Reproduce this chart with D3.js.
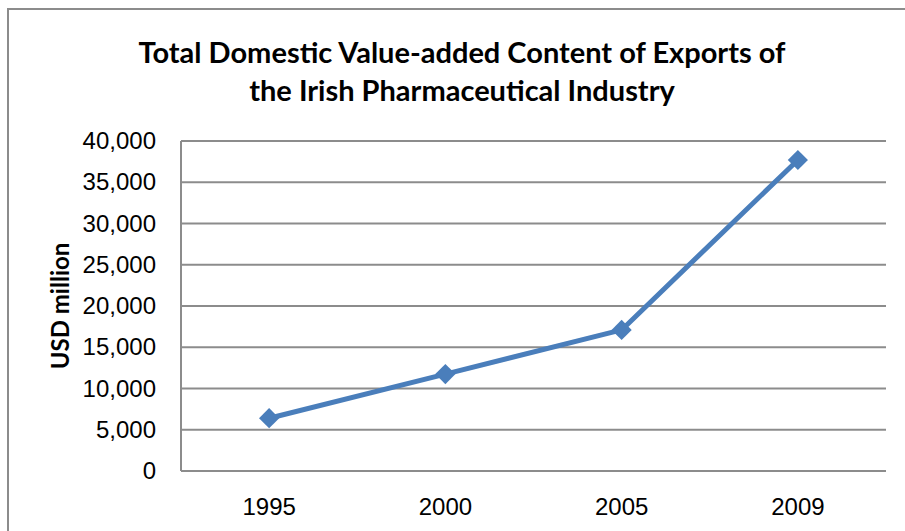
<!DOCTYPE html>
<html>
<head>
<meta charset="utf-8">
<style>
  body { margin: 0; background: #fff; }
  svg { display: block; font-family: Lato, "Open Sans", sans-serif; }
  .grid line { stroke: #8c8c8c; stroke-width: 2; }
  .axis .domain { display: none; }
  .axis text { fill: #000; font-size: 24px; }
</style>
</head>
<body>
<svg width="905" height="531"></svg>
<script src="https://cdn.jsdelivr.net/npm/d3@7"></script>
<script>
// values
var years = ["1995", "2000", "2005", "2009"];
var values = [6400, 11750, 17100, 37700];
var yTicks = [0, 5000, 10000, 15000, 20000, 25000, 30000, 35000, 40000];

var svg = d3.select("svg"),
    margin = {top: 141, right: 19, bottom: 60, left: 181},
    width = +svg.attr("width") - margin.left - margin.right,
    height = +svg.attr("height") - margin.top - margin.bottom;

// outer chart frame
svg.append("rect")
    .attr("x", 8).attr("y", 9)
    .attr("width", 920).attr("height", 560)
    .attr("fill", "none")
    .attr("stroke", "#8c8c8c")
    .attr("stroke-width", 2);

var g = svg.append("g").attr("transform", "translate(" + margin.left + "," + margin.top + ")");

var x = d3.scaleBand().domain(years).range([0, width]);
var y = d3.scaleLinear().domain([0, 40000]).range([height, 0]);

g.append("g")
    .attr("class", "grid")
    .selectAll("line")
    .data(yTicks)
    .enter().append("line")
      .attr("x1", 0).attr("x2", width)
      .attr("y1", function(d) { return y(d); })
      .attr("y2", function(d) { return y(d); });

g.append("line")
    .attr("x1", 0).attr("x2", 0)
    .attr("y1", 0).attr("y2", height)
    .attr("stroke", "#8c8c8c").attr("stroke-width", 2);

g.append("g")
    .attr("class", "axis")
    .call(d3.axisLeft(y).tickValues(yTicks).tickSize(0).tickPadding(25).tickFormat(d3.format(",")));

g.append("g")
    .attr("class", "axis")
    .attr("transform", "translate(0," + height + ")")
    .call(d3.axisBottom(x).tickSize(0).tickPadding(27));

var line = d3.line()
    .x(function(d, i) { return x(years[i]) + x.bandwidth() / 2; })
    .y(function(d) { return y(d); });

g.append("path")
    .datum(values)
    .attr("fill", "none")
    .attr("stroke", "#4a7ebb")
    .attr("stroke-width", 5)
    .attr("stroke-linejoin", "round")
    .attr("d", line);

g.selectAll(".dot")
    .data(values)
    .enter().append("path")
      .attr("class", "dot")
      .attr("transform", function(d, i) { return "translate(" + (x(years[i]) + x.bandwidth() / 2) + "," + y(d) + ")"; })
      .attr("d", d3.symbol().type(d3.symbolDiamond2).size(260))
      .attr("fill", "#4a7ebb");

svg.append("text")
    .attr("transform", "translate(69," + (margin.top + height / 2) + ") rotate(-90)")
    .attr("text-anchor", "middle")
    .attr("font-size", 24)
    .attr("font-weight", "bold")
    .text("USD million");

var title = svg.append("text")
    .attr("text-anchor", "middle")
    .attr("font-size", 29)
    .attr("font-weight", "bold");
title.append("tspan").attr("x", 462).attr("y", 63).text("Total Domestic Value-added Content of Exports of");
title.append("tspan").attr("x", 462).attr("y", 101).text("the Irish Pharmaceutical Industry");
</script>
</body>
</html>
